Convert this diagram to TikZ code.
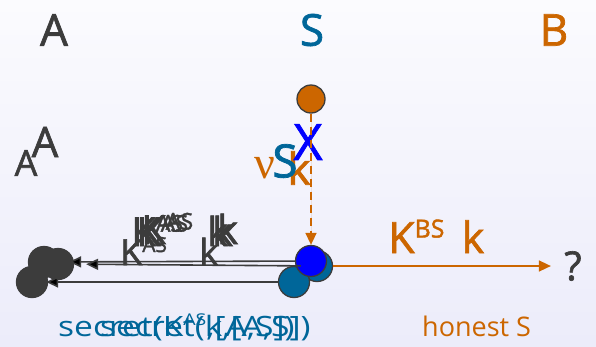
\documentclass[tikz,border=0pt]{standalone}
\usepackage{graphicx}
\usepackage{fontspec}
\setmainfont{Open Sans}
\newfontfamily\heavy{Open Sans}[FakeBold=1.6]
\newfontfamily\greekserif{Liberation Serif}
\usetikzlibrary{arrows.meta}

\definecolor{ink}{RGB}{60,60,60}
\definecolor{srvblue}{RGB}{0,102,153}
\definecolor{bobor}{RGB}{204,102,0}
\definecolor{pureblue}{RGB}{0,0,255}
\definecolor{bgtop}{RGB}{251,251,254}
\definecolor{bgbot}{RGB}{236,236,250}

% raised key index, as in K^{AS}
\newcommand\keyidx[1]{\raisebox{0.36em}{\scalebox{0.58}{#1}}}
\newcommand\fsz[1]{\fontsize{#1}{#1}\selectfont}

\begin{document}
\begin{tikzpicture}[x=1pt,y=-1pt,
  dot/.style={circle,draw=ink,line width=1.3pt,minimum size=31pt,inner sep=0pt},
  tip/.style={-{Triangle[length=12pt,width=11pt]}},
  keylbl/.style={text=ink,inner sep=0pt,anchor=base west}]
\shade [top color=bgtop,bottom color=bgbot] (0,0) rectangle (596,346);
\useasboundingbox (0,0) rectangle (596,346);

% principals
\node [text=ink,font=\heavy\fsz{44}] (nameA) at (54,30) {A};
\node [text=srvblue,font=\heavy\fsz{44}] (nameS) at (312,30) {S};
\node [text=bobor,font=\heavy\fsz{44}] (nameB) at (554,30) {B};

\node [text=ink,font=\heavy\fsz{42}] (attA) at (45,142) {A};
\node [text=ink,font=\heavy\fsz{36}] (attA2) at (26,163) {A};

% fresh key from S
\node [dot,fill=bobor,minimum size=28pt] (fresh) at (311,99) {};
\node [text=bobor,font=\greekserif\fsz{46}] (nu) at (265,168) {ν};
\node [text=bobor,font=\heavy\fsz{44}] (knew) at (299,168) {k};
\node [text=srvblue,font=\heavy\fsz{46}] (sS) at (285,161) {S};
\node [text=pureblue,font=\heavy\fsz{50}] (cross) at (308,142) {X};

% sessions
\node [dot,fill=ink] (g1) at (44,262) {};
\node [dot,fill=ink] (g2) at (58,264) {};
\node [dot,fill=ink] (g3) at (32,282) {};
\node [dot,fill=srvblue] (s2) at (317,266) {};
\node [dot,fill=srvblue] (s3) at (294,282) {};
\node [dot,fill=pureblue] (s1) at (311,261) {};
\node [text=ink,font=\heavy\fsz{40}] (query) at (573,266) {?};

\path [tip,draw=ink,line width=1.6pt]
(s1) edge [shorten >=9pt] (g1)
(s2) edge [shorten >=12pt] (g2)
(s3) edge [shorten >=-2pt] (g3);
\draw [tip,draw=bobor,fill=bobor,line width=1.6pt,shorten >=10pt] (s2) -- (query);
\draw [tip,draw=bobor,fill=bobor,line width=1.6pt,dash pattern=on 8pt off 5pt] (fresh) -- (s1);

% labels on the messages
\node [keylbl,font=\heavy\fsz{36}] (ka1) at (120,265) {K\keyidx{AS}\hspace{0.9em}k};
\node [keylbl,font=\heavy\fsz{40}] (ka2) at (131,246) {K\keyidx{AS}\hspace{0.6em}k};
\node [keylbl,font=\heavy\fsz{40}] (ka3) at (136,246) {K\keyidx{AS}\hspace{0.6em}k};
\node [keylbl,font=\heavy\fsz{40}] (ka4) at (141,244) {K\keyidx{AS}\hspace{0.6em}k};
\node [text=bobor,font=\heavy\fsz{43},anchor=base west,inner sep=0pt] (kbs) at (388,253) {K\keyidx{BS}\hspace{0.4em}k};

\node [text=srvblue,font=\fsz{28},anchor=base west,inner sep=0pt] (sec1) at (58,336) {\scalebox{1.2}[1]{secret(K\keyidx{AS},[A,S])}};
\node [text=srvblue,font=\fsz{28},anchor=base west,inner sep=0pt] (sec2) at (100,336) {\scalebox{1.2}[1]{secret(k,[A,S])}};
\node [text=bobor,font=\fsz{27},anchor=base west,inner sep=0pt] (honest) at (422,336) {honest S};
\end{tikzpicture}
\end{document}
